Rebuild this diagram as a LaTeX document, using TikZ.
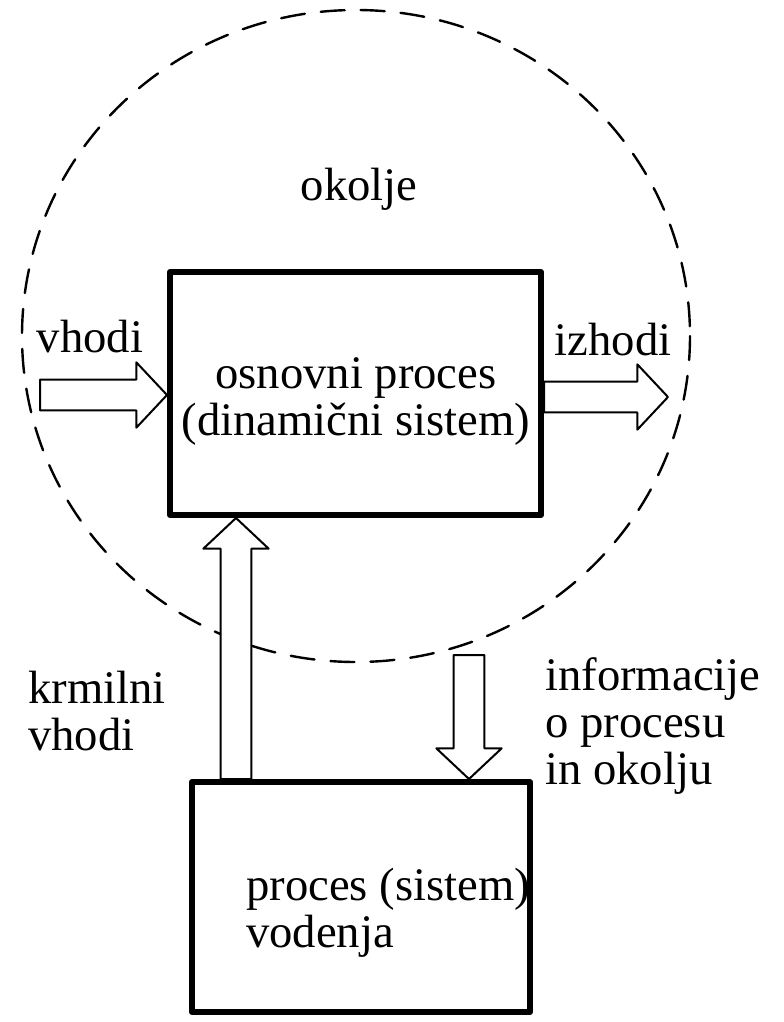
\documentclass[tikz,border=0pt]{standalone}
\usepackage{fontspec}
\setmainfont{Liberation Serif}
\usetikzlibrary{calc}

\tikzset{
  blok/.style={draw,line width=4.5pt,inner sep=0pt},
  napis/.style={inner sep=0pt,font=\fontsize{35pt}{35.25pt}\selectfont},
  puscica/.style={draw,fill=white,line width=1.5pt},
  okolica/.style={line width=1.8pt,dash pattern=on 18pt off 12pt}
}

% debela (votla) puscica od #1 do #2
\newcommand{\debelapuscica}[2]{%
  \coordinate (h) at ($(#2)!23pt!(#1)$);
  \draw[puscica] ($(#1)!11.6pt!90:(#2)$) -- ($(h)!11.6pt!90:(#2)$)
     -- ($(h)!24.5pt!90:(#2)$) -- (#2) -- ($(h)!24.5pt!-90:(#2)$)
     -- ($(h)!11.6pt!-90:(#2)$) -- ($(#1)!11.6pt!-90:(#2)$) -- cycle;
}

\begin{document}
\begin{tikzpicture}[line cap=round,line join=round,x=0.75pt,y=-0.75pt]
		\useasboundingbox (0,0) rectangle (784,1022);
		\draw [okolica] (356,336) ellipse [x radius=334,y radius=326];
		\node [blok,minimum width=278.25pt,minimum height=182.25pt] (osnovni) at (355.5,393.5) {};
		\node [blok,minimum width=253.5pt,minimum height=172.5pt] (vodenje) at (361,897) {};
		% vhodi, izhodi
		\coordinate (vh) at (40,395);
		\coordinate (iz) at (668,397);
		\debelapuscica{vh}{vh -| osnovni.west}
		\debelapuscica{iz -| osnovni.east}{iz}
		% krmilni vhodi, informacije
		\coordinate (kr) at (236,782);
		\coordinate (inf) at (469,655);
		\debelapuscica{kr |- vodenje.north}{kr |- osnovni.south}
		\debelapuscica{inf}{inf |- vodenje.north}
		\node [napis,anchor=base] (okolje) at (359,200) {okolje};
		\node [napis,anchor=base] (vhodi) at (90,352) {vhodi};
		\node [napis,anchor=base] (izhodi) at (613,355) {izhodi};
		\node [napis,anchor=north,align=center] (osnovnitxt) at (356,357) {osnovni proces\\(dinamični sistem)};
		\node [napis,anchor=north west,align=left] (krmilni) at (28,671) {krmilni\\vhodi};
		\node [napis,anchor=north west,align=left] (informacije) at (545,657) {informacije\\o procesu\\in okolju};
		\node [napis,anchor=north west,align=left] (vodenjetxt) at (246,868) {proces (sistem)\\vodenja};
		\end{tikzpicture}
\end{document}
